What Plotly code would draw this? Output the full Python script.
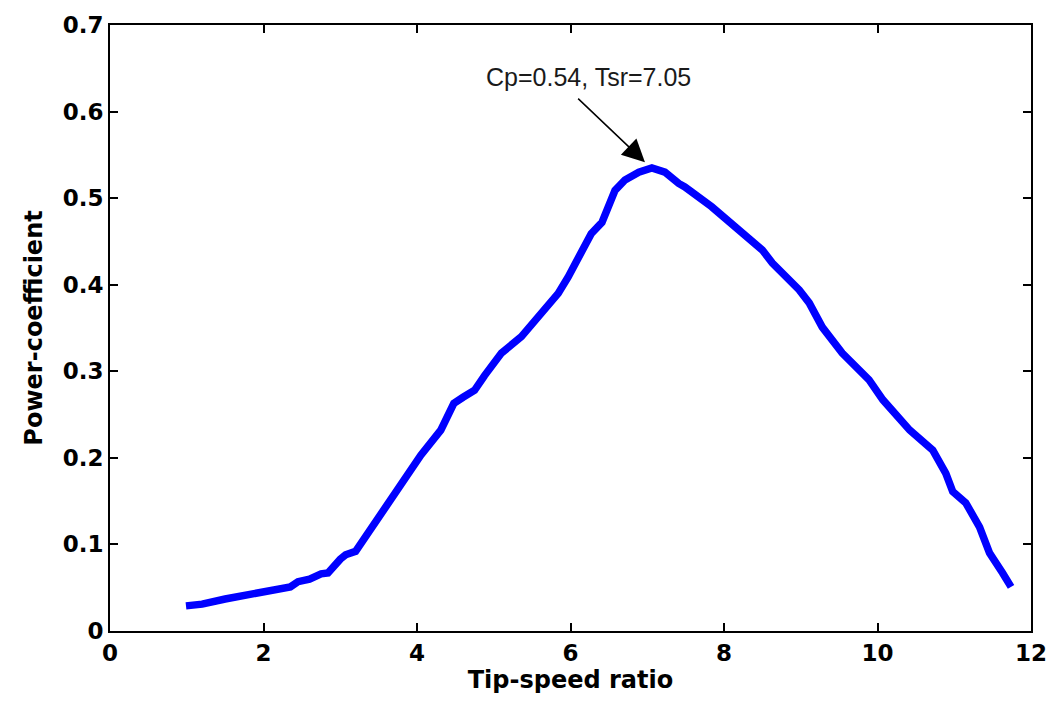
import plotly.graph_objects as go

tsr = [0.99, 1.2, 1.5, 1.8, 2.0, 2.35, 2.45, 2.6, 2.75, 2.84, 3.0, 3.07, 3.2, 3.36,
       3.57, 3.79, 4.05, 4.31, 4.48, 4.6, 4.75, 4.88, 4.97, 5.10, 5.36, 5.62, 5.84,
       5.97, 6.14, 6.27, 6.41, 6.50, 6.58, 6.71, 6.89, 7.06, 7.23, 7.41, 7.49, 7.84,
       8.14, 8.50, 8.63, 8.98, 9.11, 9.28, 9.54, 9.89, 10.07, 10.42, 10.72, 10.89,
       10.98, 11.15, 11.33, 11.46, 11.63, 11.74]
cp = [0.029, 0.031, 0.037, 0.042, 0.045, 0.051, 0.057, 0.060, 0.066, 0.067, 0.083,
      0.088, 0.092, 0.113, 0.143, 0.171, 0.203, 0.232, 0.263, 0.270, 0.278, 0.295,
      0.305, 0.321, 0.340, 0.367, 0.390, 0.409, 0.436, 0.459, 0.472, 0.494, 0.509,
      0.521, 0.530, 0.535, 0.530, 0.517, 0.513, 0.490, 0.467, 0.440, 0.425, 0.394,
      0.379, 0.351, 0.321, 0.290, 0.267, 0.232, 0.209, 0.182, 0.161, 0.148, 0.120,
      0.090, 0.067, 0.051]

x_ticks = [0, 2, 4, 6, 8, 10, 12]
x_ticktext = ["0", "2", "4", "6", "8", "10", "12"]
y_ticks = [0, 0.1, 0.2, 0.3, 0.4, 0.5, 0.6, 0.7]
y_ticktext = ["0", "0.1", "0.2", "0.3", "0.4", "0.5", "0.6", "0.7"]

annot_text = "Cp=0.54, Tsr=7.05"
arrow_tip = (6.97, 0.5416)
arrow_tail = (6.08, 0.6166)
label_pos = (6.235, 0.640)

fig = go.Figure()
fig.add_trace(go.Scatter(x=tsr, y=cp, mode="lines",
                         line=dict(color="#0000ff", width=7.5),
                         showlegend=False))

tickfont = dict(family="DejaVu Sans", size=23, color="black", weight="bold")
titlefont = dict(family="DejaVu Sans", size=24, color="black", weight="bold")

fig.update_xaxes(range=[0, 12], tickvals=x_ticks, ticktext=x_ticktext,
                 showline=True, linecolor="black", linewidth=2, mirror="ticks",
                 ticks="inside", ticklen=8, tickwidth=2, tickcolor="black",
                 showgrid=False, zeroline=False, tickfont=tickfont,
                 ticklabeloverflow="allow", automargin=False,
                 title=dict(text="Tip-speed ratio", font=titlefont, standoff=6))
fig.update_yaxes(range=[0, 0.7], tickvals=y_ticks, ticktext=y_ticktext,
                 showline=True, linecolor="black", linewidth=2, mirror="ticks",
                 ticks="inside", ticklen=8, tickwidth=2, tickcolor="black",
                 showgrid=False, zeroline=False, tickfont=tickfont,
                 ticklabeloverflow="allow", automargin=False,
                 title=dict(text="Power-coefficient", font=titlefont, standoff=13))

fig.add_annotation(x=arrow_tip[0], y=arrow_tip[1], ax=arrow_tail[0], ay=arrow_tail[1],
                   axref="x", ayref="y", xref="x", yref="y", text=" ",
                   font=dict(size=1), showarrow=True, arrowhead=2, arrowsize=3,
                   arrowwidth=1.5, arrowcolor="black", standoff=0, startstandoff=0)
fig.add_annotation(x=label_pos[0], y=label_pos[1], xref="x", yref="y",
                   text=annot_text, showarrow=False,
                   font=dict(family="Liberation Sans", size=25, color="#1a1a1a"))

fig.update_layout(width=1049, height=709, paper_bgcolor="white", plot_bgcolor="white",
                  margin=dict(l=110, r=18, t=25, b=78))

fig.write_html("out.html")
